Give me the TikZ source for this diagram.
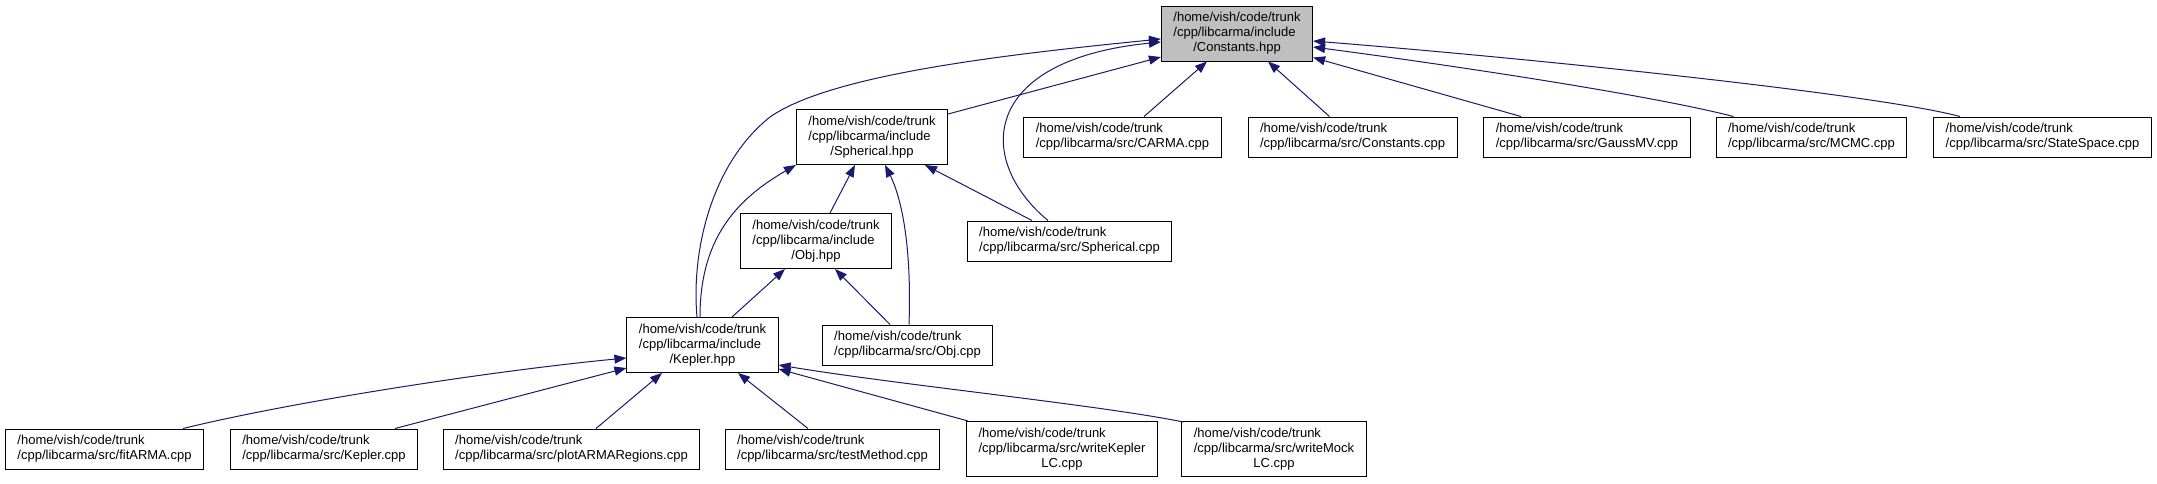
\documentclass[tikz,border=0pt]{standalone}
\usepackage{fontspec}
\setmainfont{Liberation Sans}
\usetikzlibrary{arrows.meta,calc}
\definecolor{edgeblue}{HTML}{191970}
\definecolor{focusgray}{HTML}{BFBFBF}
\newcommand\twoline[2]{\begin{tabular}{@{}l@{}}#1\\\multicolumn{1}{@{}c@{}}{#2}\end{tabular}}
\newcommand\threeline[3]{\begin{tabular}{@{}l@{}}#1\\#2\\\multicolumn{1}{@{}c@{}}{#3}\end{tabular}}
\tikzset{
  filebox/.style={draw=black, line width=1pt, fill=white, inner xsep=12pt, inner ysep=0pt,
    font=\fontsize{13}{15}\selectfont, minimum height=40pt},
  tallbox/.style={filebox, minimum height=55pt},
  focusbox/.style={tallbox, fill=focusgray},
  dep/.style={draw=edgeblue, line width=1pt, -{Triangle[length=12pt,width=9pt]}},
}
\begin{document}
\begin{tikzpicture}[x=1pt,y=-1pt]
\fill[white] (0,0) rectangle (2157,483);
\useasboundingbox (0,0) rectangle (2157,483);
% rank 0
\node[focusbox] (const) at (1237,33.5) {\threeline{/home/vish/code/trunk}{/cpp/libcarma/include}{/Constants.hpp}};
% rank 1
\node[tallbox] (sphh) at (872,137) {\threeline{/home/vish/code/trunk}{/cpp/libcarma/include}{/Spherical.hpp}};
\node[filebox] (carma) at (1122.5,137) {\twoline{/home/vish/code/trunk}{/cpp/libcarma/src/CARMA.cpp}};
\node[filebox] (constcpp) at (1352.5,137) {\twoline{/home/vish/code/trunk}{/cpp/libcarma/src/Constants.cpp}};
\node[filebox] (gauss) at (1587,137) {\twoline{/home/vish/code/trunk}{/cpp/libcarma/src/GaussMV.cpp}};
\node[filebox] (mcmc) at (1811.5,137) {\twoline{/home/vish/code/trunk}{/cpp/libcarma/src/MCMC.cpp}};
\node[filebox] (state) at (2042.5,137) {\twoline{/home/vish/code/trunk}{/cpp/libcarma/src/StateSpace.cpp}};
% rank 2
\node[tallbox] (objh) at (816,241) {\threeline{/home/vish/code/trunk}{/cpp/libcarma/include}{/Obj.hpp}};
\node[filebox] (sphcpp) at (1069.5,241) {\twoline{/home/vish/code/trunk}{/cpp/libcarma/src/Spherical.cpp}};
% rank 3
\node[tallbox] (kepler) at (702.5,345) {\threeline{/home/vish/code/trunk}{/cpp/libcarma/include}{/Kepler.hpp}};
\node[filebox] (objcpp) at (907.5,345) {\twoline{/home/vish/code/trunk}{/cpp/libcarma/src/Obj.cpp}};
% rank 4
\node[filebox] (fit) at (104.5,449) {\twoline{/home/vish/code/trunk}{/cpp/libcarma/src/fitARMA.cpp}};
\node[filebox] (kepcpp) at (324,449) {\twoline{/home/vish/code/trunk}{/cpp/libcarma/src/Kepler.cpp}};
\node[filebox] (plot) at (571.5,449) {\twoline{/home/vish/code/trunk}{/cpp/libcarma/src/plotARMARegions.cpp}};
\node[filebox] (test) at (832.5,449) {\twoline{/home/vish/code/trunk}{/cpp/libcarma/src/testMethod.cpp}};
\node[tallbox] (wkep) at (1062,449) {\threeline{/home/vish/code/trunk}{/cpp/libcarma/src/writeKepler}{LC.cpp}};
\node[tallbox] (wmock) at (1274,449) {\threeline{/home/vish/code/trunk}{/cpp/libcarma/src/writeMock}{LC.cpp}};

% edges into Constants.hpp
\draw[dep] ($(sphh.east)+(0,-23)$) -- ($(const.west)+(0,23.5)$);
\draw[dep] ($(kepler.north)+(-5.5,0)$) .. controls (691,250) and (712,163) .. (770,117)
  .. controls (830,75) and (1000,55) .. ($(const.west)+(0,5.5)$);
\draw[dep] ($(sphcpp.north)+(-21.5,0)$) .. controls (975,160) and (980,60) .. ($(const.west)+(0,8.5)$);
\draw[dep] ($(carma.north)+(21.5,0)$) -- ($(const.south)+(-30,0)$);
\draw[dep] ($(constcpp.north)+(-23,0)$) -- ($(const.south)+(31,0)$);
\draw[dep] ($(gauss.north)+(-66,0)$) -- ($(const.east)+(0,24)$);
\draw[dep] ($(mcmc.north)+(-78,0)$) .. controls (1650,95) and (1450,65) .. ($(const.east)+(0,13.5)$);
\draw[dep] ($(state.north)+(-82.5,0)$) .. controls (1880,95) and (1550,60) .. ($(const.east)+(0,7.5)$);
% edges into Spherical.hpp
\draw[dep] ($(kepler.north)+(-2.5,0)$) .. controls (700,240) and (735,200) .. (sphh.south west);
\draw[dep] ($(objh.north)+(14,0)$) -- ($(sphh.south)+(-17,0)$);
\draw[dep] ($(objcpp.north)+(1.5,0)$) .. controls (912,240) and (900,195) .. ($(sphh.south)+(13,0)$);
\draw[dep] ($(sphcpp.north)+(-37.5,0)$) -- ($(sphh.south)+(53,0)$);
% edges into Obj.hpp
\draw[dep] ($(kepler.north)+(29.5,0)$) -- ($(objh.south)+(-31,0)$);
\draw[dep] ($(objcpp.north)+(-17.5,0)$) -- ($(objh.south)+(19,0)$);
% edges into Kepler.hpp
\draw[dep] ($(fit.north)+(78.5,0)$) .. controls (300,400) and (500,370) .. ($(kepler.west)+(0,13)$);
\draw[dep] ($(kepcpp.north)+(71,0)$) -- ($(kepler.west)+(0,23)$);
\draw[dep] ($(plot.north)+(24.5,0)$) -- ($(kepler.south)+(-40.5,0)$);
\draw[dep] ($(test.north)+(-24.5,0)$) -- ($(kepler.south)+(35.5,0)$);
\draw[dep] ($(wkep.north west)+(2,0)$) -- ($(kepler.east)+(0,24)$);
\draw[dep] ($(wmock.north west)+(2,1)$) .. controls (1100,405) and (900,385) .. ($(kepler.east)+(0,20)$);
\end{tikzpicture}
\end{document}
